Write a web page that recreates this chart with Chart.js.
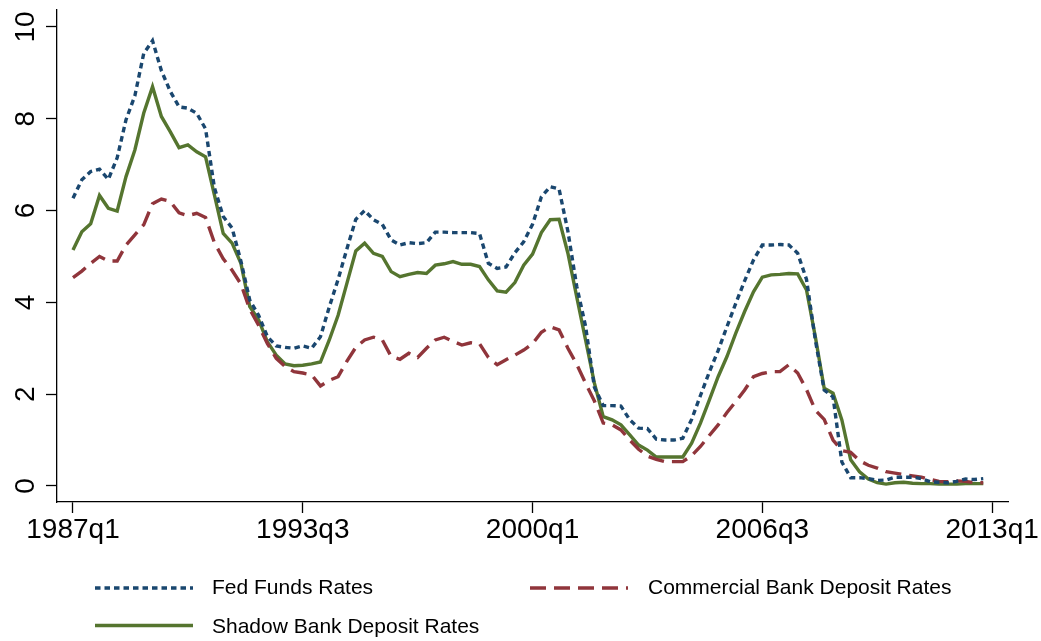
<!DOCTYPE html>
<html>
<head>
<meta charset="utf-8">
<script src="https://cdn.jsdelivr.net/npm/chart.js@4.4.1/dist/chart.umd.min.js"></script>
<style>
  html, body { margin: 0; padding: 0; background: #ffffff; }
  #wrap { width: 1041px; height: 641px; position: relative; }
</style>
</head>
<body>
<div id="wrap"><canvas id="c" width="1041" height="641"></canvas></div>
<script>
// ---- Data (quarterly, starting 1987q1) ----
const startYear = 1987;
const seriesNames = ['Fed Funds Rates', 'Commercial Bank Deposit Rates', 'Shadow Bank Deposit Rates'];

const fedFunds = [
  6.27, 6.67, 6.85, 6.90, 6.68, 7.15, 7.98, 8.50, 9.42, 9.70,
  9.05, 8.60, 8.26, 8.23, 8.12, 7.78, 6.50, 5.87, 5.62, 4.90,
  4.05, 3.72, 3.25, 3.05, 3.02, 3.00, 3.05, 3.00, 3.25, 3.90,
  4.50, 5.17, 5.81, 6.00, 5.80, 5.70, 5.36, 5.25, 5.30, 5.28,
  5.30, 5.53, 5.53, 5.52, 5.52, 5.52, 5.50, 4.85, 4.74, 4.77,
  5.08, 5.32, 5.70, 6.30, 6.52, 6.47, 5.55, 4.35, 3.48, 2.15,
  1.75, 1.75, 1.74, 1.44, 1.26, 1.25, 1.02, 1.00, 1.00, 1.04,
  1.45, 1.97, 2.48, 2.95, 3.47, 3.98, 4.47, 4.92, 5.25, 5.25,
  5.26, 5.25, 5.07, 4.50, 3.18, 2.09, 1.94, 0.52, 0.18, 0.18,
  0.16, 0.12, 0.13, 0.19, 0.19, 0.19, 0.16, 0.09, 0.08, 0.07,
  0.10, 0.15, 0.14, 0.16
];

const commercialDeposit = [
  4.54, 4.68, 4.85, 5.00, 4.90, 4.90, 5.25, 5.47, 5.69, 6.15,
  6.25, 6.20, 5.95, 5.89, 5.94, 5.85, 5.30, 4.95, 4.70, 4.40,
  3.85, 3.50, 3.10, 2.78, 2.60, 2.49, 2.46, 2.42, 2.18, 2.30,
  2.38, 2.72, 3.02, 3.18, 3.24, 3.18, 2.82, 2.76, 2.89, 2.80,
  3.00, 3.18, 3.24, 3.15, 3.07, 3.12, 3.10, 2.80, 2.64, 2.75,
  2.85, 2.96, 3.10, 3.35, 3.47, 3.40, 3.00, 2.65, 2.24, 1.85,
  1.37, 1.33, 1.22, 1.00, 0.80, 0.65, 0.58, 0.53, 0.53, 0.53,
  0.66, 0.86, 1.10, 1.33, 1.60, 1.84, 2.09, 2.38, 2.45, 2.49,
  2.49, 2.64, 2.46, 2.10, 1.65, 1.45, 1.00, 0.77, 0.73, 0.55,
  0.45, 0.39, 0.31, 0.28, 0.25, 0.22, 0.19, 0.14, 0.10, 0.09,
  0.11, 0.10, 0.07, 0.07
];

const shadowDeposit = [
  5.14, 5.54, 5.71, 6.33, 6.05, 5.99, 6.74, 7.32, 8.12, 8.70,
  8.05, 7.72, 7.37, 7.43, 7.28, 7.17, 6.34, 5.50, 5.29, 4.85,
  3.91, 3.62, 3.14, 2.85, 2.66, 2.62, 2.63, 2.66, 2.70, 3.18,
  3.72, 4.42, 5.12, 5.29, 5.07, 5.00, 4.67, 4.56, 4.61, 4.65,
  4.63, 4.81, 4.84, 4.89, 4.83, 4.83, 4.78, 4.49, 4.25, 4.22,
  4.43, 4.81, 5.05, 5.52, 5.80, 5.81, 5.07, 4.12, 3.18, 2.24,
  1.51, 1.44, 1.33, 1.11, 0.89, 0.78, 0.63, 0.63, 0.63, 0.63,
  0.93, 1.37, 1.87, 2.38, 2.82, 3.33, 3.80, 4.23, 4.55, 4.60,
  4.61, 4.63, 4.62, 4.27, 3.25, 2.13, 2.02, 1.44, 0.57, 0.31,
  0.15, 0.07, 0.04, 0.07, 0.08, 0.06, 0.05, 0.05, 0.04, 0.04,
  0.04, 0.05, 0.05, 0.05
];

const xTickLabels = ['1987q1', '1993q3', '2000q1', '2006q3', '2013q1'];
const yTickValues = [0, 2, 4, 6, 8, 10];

// ---- helpers ----
function quarterIndex(label) {
  const yr = parseInt(label.slice(0, 4), 10);
  const q = parseInt(label.slice(5), 10);
  return (yr - startYear) * 4 + (q - 1);
}
const xTickPos = xTickLabels.map(quarterIndex);
function toPoints(arr) { return arr.map((v, i) => ({ x: i, y: v })); }

const FONT = '"Liberation Sans", Arial, Helvetica, sans-serif';
const COLORS = { navy: '#1a476f', maroon: '#90353b', green: '#55752f' };

const yLabelPlugin = {
  id: 'yLabels',
  afterDraw(chart) {
    const ctx = chart.ctx;
    const ys = chart.scales.y;
    ctx.save();
    ctx.fillStyle = '#000';
    ctx.font = '28px ' + FONT;
    ctx.textAlign = 'center';
    ctx.textBaseline = 'alphabetic';
    yTickValues.forEach(v => {
      const py = ys.getPixelForValue(v);
      ctx.save();
      ctx.translate(33.5, py);
      ctx.rotate(-Math.PI / 2);
      ctx.fillText(String(v), 0, 0);
      ctx.restore();
    });
    ctx.restore();
  }
};

const legendPlugin = {
  id: 'customLegend',
  afterDraw(chart) {
    const ctx = chart.ctx;
    const slots = [
      { ds: 0, x0: 95, x1: 193, ly: 588, tx: 212, ty: 588.5 },
      { ds: 1, x0: 530, x1: 628, ly: 588, tx: 648, ty: 588.5 },
      { ds: 2, x0: 95, x1: 193, ly: 625.5, tx: 212, ty: 627 }
    ];
    ctx.save();
    slots.forEach(s => {
      const d = chart.data.datasets[s.ds];
      ctx.save();
      ctx.strokeStyle = d.borderColor;
      ctx.lineWidth = d.borderWidth;
      ctx.setLineDash(d.borderDash || []);
      ctx.lineCap = 'butt';
      ctx.beginPath();
      ctx.moveTo(s.x0, s.ly);
      ctx.lineTo(s.x1, s.ly);
      ctx.stroke();
      ctx.restore();
      ctx.fillStyle = '#000';
      ctx.font = '21px ' + FONT;
      ctx.textAlign = 'left';
      ctx.textBaseline = 'middle';
      ctx.fillText(d.label, s.tx, s.ty);
    });
    ctx.restore();
  }
};

new Chart(document.getElementById('c'), {
  type: 'line',
  data: {
    datasets: [
      { label: seriesNames[0], data: toPoints(fedFunds), borderColor: COLORS.navy,
        borderWidth: 3.4, borderDash: [5.5, 4], pointRadius: 0, tension: 0, fill: false },
      { label: seriesNames[1], data: toPoints(commercialDeposit), borderColor: COLORS.maroon,
        borderWidth: 3.4, borderDash: [16, 8], pointRadius: 0, tension: 0, fill: false },
      { label: seriesNames[2], data: toPoints(shadowDeposit), borderColor: COLORS.green,
        borderWidth: 3.4, pointRadius: 0, tension: 0, fill: false }
    ]
  },
  options: {
    responsive: false,
    animation: false,
    events: [],
    layout: { padding: { left: 0, right: 33, top: 10, bottom: 0 } },
    plugins: { legend: { display: false }, tooltip: { enabled: false }, title: { display: false } },
    scales: {
      x: {
        type: 'linear',
        min: -1.81,
        max: 105.8,
        afterBuildTicks(scale) { scale.ticks = xTickPos.map(v => ({ value: v })); },
        afterFit(scale) { scale.height = 139; },
        ticks: {
          autoSkip: false,
          maxRotation: 0,
          minRotation: 0,
          padding: 0,
          color: '#000',
          font: { family: FONT, size: 28 },
          callback(value) {
            const k = xTickPos.indexOf(value);
            return k >= 0 ? xTickLabels[k] : '';
          }
        },
        grid: { display: true, drawOnChartArea: false, drawTicks: true, tickLength: 11,
                tickColor: '#000', tickWidth: 1.3 },
        border: { display: true, color: '#000', width: 1.3 }
      },
      y: {
        type: 'linear',
        min: -0.35,
        max: 10.37,
        afterBuildTicks(scale) { scale.ticks = yTickValues.map(v => ({ value: v })); },
        afterFit(scale) { scale.width = 57; },
        ticks: { display: false },
        grid: { display: true, drawOnChartArea: false, drawTicks: true, tickLength: 11,
                tickColor: '#000', tickWidth: 1.3 },
        border: { display: true, color: '#000', width: 1.3 }
      }
    }
  },
  plugins: [yLabelPlugin, legendPlugin]
});
</script>
</body>
</html>
